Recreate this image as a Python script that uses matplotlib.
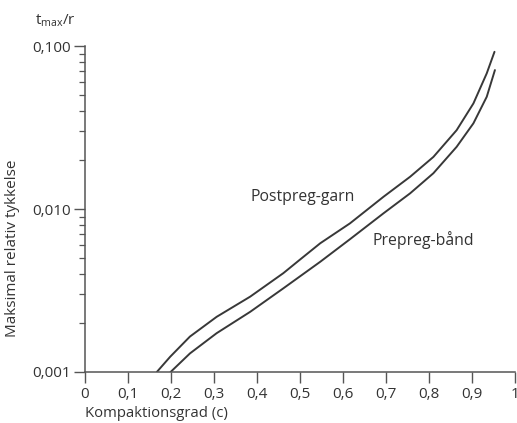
import numpy as np
import matplotlib.pyplot as plt
from matplotlib.ticker import FixedLocator, LogLocator, NullFormatter

plt.rcParams['font.family'] = ['Open Sans', 'DejaVu Sans']
plt.rcParams['mathtext.default'] = 'regular'

# maximal relative thickness vs degree of compaction
postpreg_c = [0.167, 0.198, 0.244, 0.306, 0.384, 0.461, 0.500, 0.547, 0.616,
              0.694, 0.756, 0.810, 0.864, 0.903, 0.934, 0.952]
postpreg_t = [0.00100, 0.00124, 0.00165, 0.00218, 0.00290, 0.00404, 0.00490,
              0.00617, 0.00817, 0.0119, 0.0158, 0.0209, 0.0305, 0.0445,
              0.0681, 0.0923]

prepreg_c = [0.199, 0.244, 0.306, 0.384, 0.461, 0.547, 0.616, 0.694, 0.756,
             0.810, 0.864, 0.903, 0.934, 0.953]
prepreg_t = [0.00100, 0.00130, 0.00173, 0.00234, 0.00326, 0.00475, 0.00653,
             0.00942, 0.0125, 0.0166, 0.0241, 0.0336, 0.0489, 0.0713]

x_ticks = [0, 0.1, 0.2, 0.3, 0.4, 0.5, 0.6, 0.7, 0.8, 0.9, 1.0]
x_labels = ['0', '0,1', '0,2', '0,3', '0,4', '0,5', '0,6', '0,7', '0,8', '0,9', '1']
y_ticks = [0.001, 0.01, 0.1]
y_labels = ['0,001', '0,010', '0,100']

fig = plt.figure(figsize=(5.17, 4.23), dpi=100)
ax = fig.add_axes([0.1644, 0.1206, 0.832, 0.7703])

line_col = '#383838'
ax.plot(postpreg_c, postpreg_t, color=line_col, linewidth=1.4,
        solid_capstyle='round', solid_joinstyle='round')
ax.plot(prepreg_c, prepreg_t, color=line_col, linewidth=1.4,
        solid_capstyle='round', solid_joinstyle='round')

ax.set_yscale('log')
ax.set_xlim(0, 1)
ax.set_ylim(0.001, 0.1)

ax.xaxis.set_major_locator(FixedLocator(x_ticks))
ax.set_xticklabels(x_labels)
ax.yaxis.set_major_locator(FixedLocator(y_ticks))
ax.set_yticklabels(y_labels)
ax.yaxis.set_minor_locator(LogLocator(base=10, subs=np.arange(2, 10)))
ax.yaxis.set_minor_formatter(NullFormatter())

for side in ['top', 'right']:
    ax.spines[side].set_visible(False)
for side in ['left', 'bottom']:
    ax.spines[side].set_color('#555555')
    ax.spines[side].set_linewidth(1.1)

ax.tick_params(axis='both', which='major', direction='out', length=8, width=1.0,
               colors='#555555', labelcolor='#333333', labelsize=11, pad=2)
ax.tick_params(axis='x', which='major', pad=3)
ax.tick_params(axis='y', which='minor', direction='out', length=4.5, width=0.9,
               colors='#555555')

ax.text(0.384, 0.0119, 'Postpreg-garn', fontsize=11.3, color='#333333',
        ha='left', va='center')
ax.text(0.669, 0.0065, 'Prepreg-bånd', fontsize=11.3, color='#333333',
        ha='left', va='center')

fig.text(35 / 517, 1 - 21 / 423, 't$_{max}$/r', fontsize=11, color='#333333',
         ha='left', va='center')
fig.text(85 / 517, 1 - 413 / 423, 'Kompaktionsgrad (c)', fontsize=10.7,
         color='#333333', ha='left', va='center')
fig.text(13 / 517, 1 - 248 / 423, 'Maksimal relativ tykkelse', fontsize=11,
         color='#333333', ha='center', va='center', rotation=90)

fig.savefig('out.png', dpi=100)
